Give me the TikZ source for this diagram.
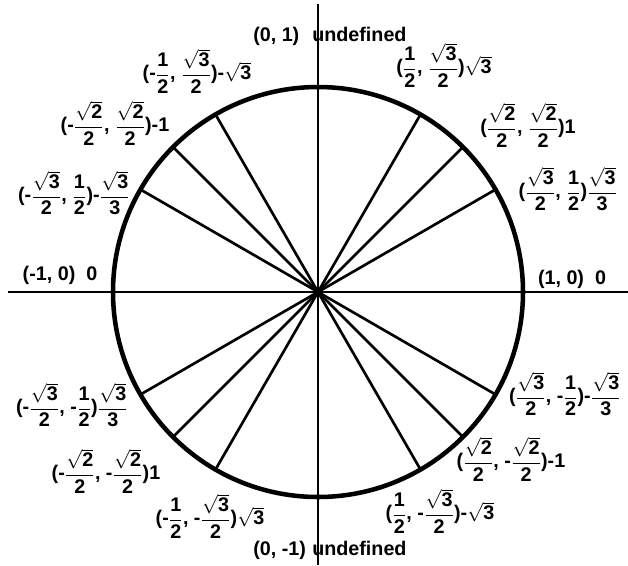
\documentclass[tikz,border=0pt]{standalone}
\usepackage{amsmath}
\usepackage{fontspec}
\setmainfont{Liberation Sans}
\usepackage{tikz}
\usetikzlibrary{calc}
\newcommand\frc[2]{\ensuremath{\dfrac{\text{#1}}{\text{#2}}}}
\newcommand\sqt[1]{\ensuremath{\sqrt{\text{#1}}}}
\tikzset{
  rim/.style={draw=black,line width=3.4pt},
  spoke/.style={draw=black,line width=2pt},
  axis/.style={draw=black,line width=1pt},
  lbl/.style={inner sep=0pt,font=\fontsize{14.8}{17}\selectfont\bfseries}
}
\begin{document}
\begin{tikzpicture}[x=0.75pt,y=-0.75pt]
  \useasboundingbox[fill=white] (0,0) rectangle (628,565);
  \coordinate (O) at (318,292);
  % axes
  \coordinate (xl) at (8,292);
  \coordinate (xr) at (628,292);
  \coordinate (yt) at (318,4);
  \coordinate (yb) at (318,565);
  \draw[axis] (xl) -- (xr);
  \draw[axis] (yt) -- (yb);
  % spokes to the special angles
  \foreach \a in {0,30,45,60,90,120,135,150,180,210,225,240,270,300,315,330}{
    \coordinate (p\a) at ($(O)+(\a:205)$);
    \draw[spoke] (O) -- (p\a);
  }
  \draw[rim] (O) circle[radius=205];
  % labels, first quadrant
  \node[lbl] (q30) at (444,65) {(\frc{1}{2}, \frc{\sqt{3}}{2})\sqt{3}};
  \node[lbl] (q45) at (528,125) {(\frc{\sqt{2}}{2}, \frc{\sqt{2}}{2})1};
  \node[lbl] (q60) at (568,189) {(\frc{\sqt{3}}{2}, \frc{1}{2})\frc{\sqt{3}}{3}};
  \node[lbl] (q0) at (572,279) {(1, 0)\ \ 0};
  % fourth quadrant
  \node[lbl] (q330) at (565,394) {(\frc{\sqt{3}}{2}, -\frc{1}{2})-\frc{\sqt{3}}{3}};
  \node[lbl] (q315) at (511,459) {(\frc{\sqt{2}}{2}, -\frc{\sqt{2}}{2})-1};
  \node[lbl] (q300) at (440,511) {(\frc{1}{2}, -\frc{\sqt{3}}{2})-\sqt{3}};
  \node[lbl,anchor=base west] (q270) at (253,555) {(0, -1)};
  \node[lbl,anchor=base west] (u270) at (312,555) {undefined};
  % third quadrant
  \node[lbl] (q240) at (210,516) {(-\frc{1}{2}, -\frc{\sqt{3}}{2})\sqt{3}};
  \node[lbl] (q225) at (106,471) {(-\frc{\sqt{2}}{2}, -\frc{\sqt{2}}{2})1};
  \node[lbl] (q210) at (72,405) {(-\frc{\sqt{3}}{2}, -\frc{1}{2})\frc{\sqt{3}}{3}};
  \node[lbl] (q180) at (60,275) {(-1, 0)\ \ 0};
  % second quadrant
  \node[lbl] (q150) at (74,193) {(-\frc{\sqt{3}}{2}, \frc{1}{2})-\frc{\sqt{3}}{3}};
  \node[lbl] (q135) at (115,123) {(-\frc{\sqt{2}}{2}, \frc{\sqt{2}}{2})-1};
  \node[lbl] (q120) at (197,71) {(-\frc{1}{2}, \frc{\sqt{3}}{2})-\sqt{3}};
  \node[lbl,anchor=base west] (q90) at (253,41) {(0, 1)};
  \node[lbl,anchor=base west] (u90) at (312,41) {undefined};
\end{tikzpicture}
\end{document}
